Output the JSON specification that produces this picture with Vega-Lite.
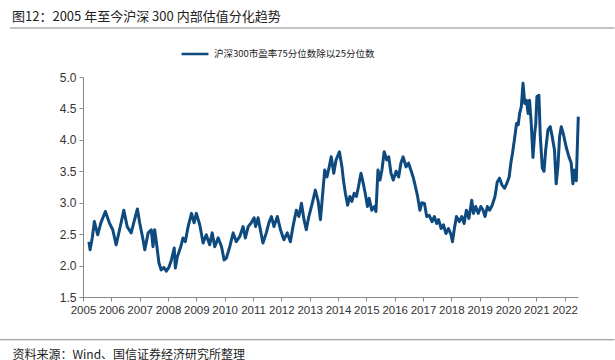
{
  "$schema": "https://vega.github.io/schema/vega-lite/v6.json",
  "autosize": {"type": "none"},
  "width": 495,
  "height": 220,
  "padding": {"left": 83, "top": 77, "right": 37, "bottom": 63},
  "background": "white",
  "title": {
    "text": "图12：2005 年至今沪深 300 内部估值分化趋势",
    "anchor": "start",
    "frame": "group",
    "dx": -71,
    "offset": 3,
    "font": "Noto Sans CJK SC",
    "fontSize": 13,
    "fontWeight": "normal",
    "color": "#222222"
  },
  "config": {
    "view": {"stroke": null},
    "axis": {"grid": false, "labelOverlap": false, "labelFlush": false}
  },
  "resolve": {"axis": {"x": "independent", "y": "independent"}},
  "layer": [
    {
      "data": {"values": [
        {"t": 2005.21, "v": 2.38}, {"t": 2005.25, "v": 2.25}, {"t": 2005.33, "v": 2.45}, {"t": 2005.40, "v": 2.70},
        {"t": 2005.52, "v": 2.49}, {"t": 2005.63, "v": 2.68}, {"t": 2005.79, "v": 2.86}, {"t": 2005.93, "v": 2.68},
        {"t": 2006.05, "v": 2.57}, {"t": 2006.17, "v": 2.33}, {"t": 2006.29, "v": 2.57}, {"t": 2006.44, "v": 2.88},
        {"t": 2006.56, "v": 2.62}, {"t": 2006.70, "v": 2.52}, {"t": 2006.79, "v": 2.68}, {"t": 2006.92, "v": 2.90},
        {"t": 2007.00, "v": 2.68}, {"t": 2007.12, "v": 2.41}, {"t": 2007.18, "v": 2.25}, {"t": 2007.30, "v": 2.52},
        {"t": 2007.41, "v": 2.57}, {"t": 2007.47, "v": 2.30}, {"t": 2007.53, "v": 2.57}, {"t": 2007.61, "v": 2.30},
        {"t": 2007.68, "v": 2.04}, {"t": 2007.76, "v": 1.93}, {"t": 2007.85, "v": 1.97}, {"t": 2007.94, "v": 1.91},
        {"t": 2008.04, "v": 1.98}, {"t": 2008.12, "v": 2.09}, {"t": 2008.22, "v": 2.28}, {"t": 2008.26, "v": 1.96},
        {"t": 2008.33, "v": 2.14}, {"t": 2008.45, "v": 2.30}, {"t": 2008.53, "v": 2.44}, {"t": 2008.61, "v": 2.38},
        {"t": 2008.71, "v": 2.62}, {"t": 2008.83, "v": 2.83}, {"t": 2008.92, "v": 2.68}, {"t": 2009.00, "v": 2.83},
        {"t": 2009.12, "v": 2.65}, {"t": 2009.24, "v": 2.36}, {"t": 2009.35, "v": 2.49}, {"t": 2009.47, "v": 2.33},
        {"t": 2009.56, "v": 2.52}, {"t": 2009.65, "v": 2.30}, {"t": 2009.77, "v": 2.44}, {"t": 2009.89, "v": 2.30},
        {"t": 2009.98, "v": 2.09}, {"t": 2010.06, "v": 2.12}, {"t": 2010.18, "v": 2.30}, {"t": 2010.30, "v": 2.52},
        {"t": 2010.41, "v": 2.38}, {"t": 2010.53, "v": 2.46}, {"t": 2010.65, "v": 2.62}, {"t": 2010.73, "v": 2.44},
        {"t": 2010.83, "v": 2.62}, {"t": 2010.94, "v": 2.68}, {"t": 2011.04, "v": 2.76}, {"t": 2011.09, "v": 2.62},
        {"t": 2011.18, "v": 2.76}, {"t": 2011.26, "v": 2.57}, {"t": 2011.35, "v": 2.36}, {"t": 2011.47, "v": 2.52},
        {"t": 2011.56, "v": 2.68}, {"t": 2011.65, "v": 2.78}, {"t": 2011.74, "v": 2.62}, {"t": 2011.86, "v": 2.78},
        {"t": 2011.97, "v": 2.57}, {"t": 2012.09, "v": 2.41}, {"t": 2012.21, "v": 2.52}, {"t": 2012.32, "v": 2.38},
        {"t": 2012.41, "v": 2.62}, {"t": 2012.53, "v": 2.88}, {"t": 2012.62, "v": 2.78}, {"t": 2012.71, "v": 2.99},
        {"t": 2012.80, "v": 2.73}, {"t": 2012.88, "v": 2.57}, {"t": 2012.97, "v": 2.78}, {"t": 2013.09, "v": 2.99},
        {"t": 2013.20, "v": 3.20}, {"t": 2013.30, "v": 3.02}, {"t": 2013.38, "v": 2.73}, {"t": 2013.44, "v": 3.04},
        {"t": 2013.53, "v": 3.52}, {"t": 2013.61, "v": 3.41}, {"t": 2013.69, "v": 3.57}, {"t": 2013.76, "v": 3.73},
        {"t": 2013.85, "v": 3.47}, {"t": 2013.93, "v": 3.68}, {"t": 2014.05, "v": 3.81}, {"t": 2014.14, "v": 3.57},
        {"t": 2014.19, "v": 3.36}, {"t": 2014.26, "v": 3.15}, {"t": 2014.34, "v": 2.96}, {"t": 2014.42, "v": 3.10},
        {"t": 2014.49, "v": 3.02}, {"t": 2014.57, "v": 3.15}, {"t": 2014.65, "v": 3.10}, {"t": 2014.72, "v": 3.25},
        {"t": 2014.81, "v": 3.47}, {"t": 2014.89, "v": 3.31}, {"t": 2014.96, "v": 3.15}, {"t": 2015.04, "v": 2.94},
        {"t": 2015.10, "v": 3.07}, {"t": 2015.19, "v": 2.88}, {"t": 2015.28, "v": 2.94}, {"t": 2015.34, "v": 2.86},
        {"t": 2015.41, "v": 3.52}, {"t": 2015.48, "v": 3.36}, {"t": 2015.55, "v": 3.52}, {"t": 2015.63, "v": 3.81},
        {"t": 2015.72, "v": 3.68}, {"t": 2015.79, "v": 3.73}, {"t": 2015.87, "v": 3.47}, {"t": 2015.95, "v": 3.36},
        {"t": 2016.05, "v": 3.50}, {"t": 2016.14, "v": 3.41}, {"t": 2016.22, "v": 3.63}, {"t": 2016.30, "v": 3.73},
        {"t": 2016.40, "v": 3.57}, {"t": 2016.49, "v": 3.63}, {"t": 2016.57, "v": 3.52}, {"t": 2016.65, "v": 3.41},
        {"t": 2016.72, "v": 3.28}, {"t": 2016.81, "v": 3.10}, {"t": 2016.89, "v": 2.88}, {"t": 2016.96, "v": 3.00},
        {"t": 2017.05, "v": 2.99}, {"t": 2017.13, "v": 2.78}, {"t": 2017.22, "v": 2.80}, {"t": 2017.32, "v": 2.70},
        {"t": 2017.40, "v": 2.78}, {"t": 2017.48, "v": 2.67}, {"t": 2017.55, "v": 2.73}, {"t": 2017.64, "v": 2.59},
        {"t": 2017.72, "v": 2.65}, {"t": 2017.81, "v": 2.51}, {"t": 2017.90, "v": 2.59}, {"t": 2017.99, "v": 2.49},
        {"t": 2018.04, "v": 2.38}, {"t": 2018.10, "v": 2.57}, {"t": 2018.18, "v": 2.78}, {"t": 2018.28, "v": 2.70},
        {"t": 2018.37, "v": 2.78}, {"t": 2018.45, "v": 2.67}, {"t": 2018.53, "v": 2.88}, {"t": 2018.62, "v": 2.75},
        {"t": 2018.72, "v": 3.04}, {"t": 2018.78, "v": 2.83}, {"t": 2018.86, "v": 2.94}, {"t": 2018.95, "v": 2.83},
        {"t": 2019.04, "v": 2.94}, {"t": 2019.12, "v": 2.88}, {"t": 2019.19, "v": 2.78}, {"t": 2019.27, "v": 2.94},
        {"t": 2019.35, "v": 2.88}, {"t": 2019.44, "v": 2.96}, {"t": 2019.54, "v": 3.10}, {"t": 2019.62, "v": 3.33},
        {"t": 2019.70, "v": 3.39}, {"t": 2019.79, "v": 3.28}, {"t": 2019.88, "v": 3.23}, {"t": 2019.96, "v": 3.31},
        {"t": 2020.04, "v": 3.41}, {"t": 2020.10, "v": 3.63}, {"t": 2020.16, "v": 3.79}, {"t": 2020.24, "v": 4.05},
        {"t": 2020.30, "v": 4.26}, {"t": 2020.36, "v": 4.24}, {"t": 2020.41, "v": 4.42}, {"t": 2020.47, "v": 4.53},
        {"t": 2020.53, "v": 4.90}, {"t": 2020.59, "v": 4.58}, {"t": 2020.65, "v": 4.63}, {"t": 2020.71, "v": 4.42},
        {"t": 2020.76, "v": 4.63}, {"t": 2020.82, "v": 4.26}, {"t": 2020.88, "v": 3.72}, {"t": 2020.94, "v": 4.10},
        {"t": 2020.98, "v": 4.26}, {"t": 2021.02, "v": 4.69}, {"t": 2021.09, "v": 4.71}, {"t": 2021.14, "v": 4.05},
        {"t": 2021.21, "v": 3.55}, {"t": 2021.27, "v": 3.50}, {"t": 2021.33, "v": 3.84}, {"t": 2021.41, "v": 4.16},
        {"t": 2021.49, "v": 4.21}, {"t": 2021.56, "v": 4.05}, {"t": 2021.64, "v": 3.84}, {"t": 2021.70, "v": 3.30},
        {"t": 2021.76, "v": 3.57}, {"t": 2021.82, "v": 4.05}, {"t": 2021.88, "v": 4.21}, {"t": 2021.96, "v": 4.08},
        {"t": 2022.05, "v": 3.89}, {"t": 2022.15, "v": 3.73}, {"t": 2022.23, "v": 3.63}, {"t": 2022.29, "v": 3.30},
        {"t": 2022.35, "v": 3.52}, {"t": 2022.41, "v": 3.35}, {"t": 2022.44, "v": 3.79}, {"t": 2022.48, "v": 4.37}
      ]},
      "mark": {"type": "line", "strokeWidth": 3, "strokeJoin": "round"},
      "encoding": {
        "x": {
          "field": "t", "type": "quantitative",
          "scale": {"domain": [2005, 2022.47], "nice": false, "zero": false},
          "axis": {
            "values": [2005, 2006, 2007, 2008, 2009, 2010, 2011, 2012, 2013, 2014, 2015, 2016, 2017, 2018, 2019, 2020, 2021, 2022],
            "format": "d",
            "labelOverlap": false,
            "labelFlush": false,
            "labelFont": "Liberation Sans",
            "labelFontSize": 11.5,
            "labelColor": "#333333",
            "labelPadding": 3,
            "tickSize": 4,
            "tickColor": "#888888",
            "domainColor": "#888888",
            "title": "资料来源：Wind、国信证券经济研究所整理",
            "titleFont": "Noto Sans CJK SC",
            "titleFontSize": 12,
            "titleFontWeight": "normal",
            "titleColor": "#222222",
            "titleAlign": "left",
            "titleAnchor": "start",
            "titleBaseline": "top",
            "titleX": -71,
            "titleY": 52
          }
        },
        "y": {
          "field": "v", "type": "quantitative",
          "scale": {"domain": [1.5, 5.0], "nice": false, "zero": false},
          "axis": {
            "values": [1.5, 2.0, 2.5, 3.0, 3.5, 4.0, 4.5, 5.0],
            "format": ".1f",
            "title": null,
            "labelOverlap": false,
            "labelFont": "Liberation Sans",
            "labelFontSize": 12,
            "labelColor": "#333333",
            "labelPadding": 3,
            "tickSize": 4,
            "tickColor": "#888888",
            "domainColor": "#888888"
          }
        },
        "color": {
          "datum": "沪深300市盈率75分位数除以25分位数",
          "type": "nominal",
          "scale": {"range": ["#0f4a7f"]},
          "legend": {
            "title": null,
            "orient": "none",
            "legendX": 97,
            "legendY": -38,
            "symbolType": "stroke",
            "symbolSize": 729,
            "symbolStrokeWidth": 2.5,
            "labelFont": "Noto Sans CJK SC",
            "labelFontSize": 9.5,
            "labelLimit": 400,
            "labelColor": "#222222",
            "labelOffset": 4
          }
        }
      }
    },
    {
      "data": {"values": [{}]},
      "mark": {"type": "rule", "color": "#888888", "strokeWidth": 1, "clip": false},
      "encoding": {
        "x": {"datum": 2002.42, "axis": null},
        "x2": {"datum": 2023.76},
        "y": {"datum": 5.78, "axis": null}
      }
    },
    {
      "data": {"values": [{}]},
      "mark": {"type": "rule", "color": "#888888", "strokeWidth": 1, "clip": false},
      "encoding": {
        "x": {"datum": 2002.0, "axis": null},
        "x2": {"datum": 2023.76},
        "y": {"datum": 0.82, "axis": null}
      }
    }
  ]
}
